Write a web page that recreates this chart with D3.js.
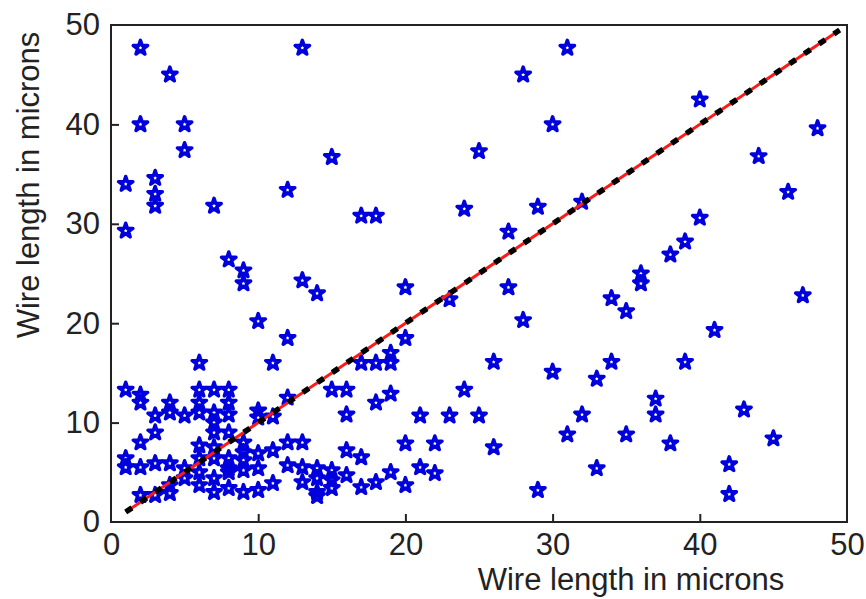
<!DOCTYPE html>
<html><head><meta charset="utf-8">
<script src="https://cdn.jsdelivr.net/npm/d3@7"></script>
<style>body{margin:0;background:#fff}svg{display:block}</style>
</head><body><svg id="c" width="866" height="599"></svg>
<script>
// ---- data ----
const xTicks = [0, 10, 20, 30, 40, 50];
const yTicks = [0, 10, 20, 30, 40, 50];
const xLabel = "Wire length in microns";
const yLabel = "Wire length in microns";
// reference line y = x (endpoints)
const refLine = [[1, 1], [49.5, 49.5]];
// scattered wire lengths (x, y)
const wireX = [2,13,31,4,28,40,2,5,30,48,5,25,15,44,1,3,12,46,3,32,3,7,24,29,17,18,40,1,27,39,38,8,9,36,9,13,36,14,20,27,47,23,34,35,10,28,41,12,20,19,6,11,17,18,19,26,34,39,30,33,1,6,7,8,15,16,24,19,2,12,37,2,4,6,8,18,43,10,4,6,7,16,3,5,8,10,11,21,23,25,32,37,7,3,7,8,31,35,45,2,6,9,12,13,20,22,38,26,9,10,11,16,17,1,6,7,8,9,1,2,3,4,5,8,9,10,12,13,14,15,21,33,42,6,8,19,22,16,5,7,14,15,13,18,11,4,6,20,8,15,17,9,10,7,14,29,4,42,2,3,14,7];
const wireY = [47.7,47.7,47.7,45,45,42.5,40,40,40,39.6,37.4,37.3,36.7,36.8,34,34.6,33.4,33.2,33,32.2,31.8,31.8,31.5,31.7,30.8,30.8,30.6,29.3,29.2,28.2,26.9,26.4,25.3,25,24,24.3,24,23,23.6,23.6,22.8,22.4,22.5,21.2,20.2,20.3,19.3,18.5,18.5,17,16,16,16,16,16,16.1,16.1,16.1,15.1,14.4,13.3,13.3,13.3,13.3,13.3,13.3,13.3,12.9,12.8,12.5,12.4,12,12,12,12,12,11.3,11.2,11,11,11,10.8,10.7,10.7,10.8,10.5,10.6,10.7,10.7,10.7,10.8,10.8,10,9,9,9,8.8,8.8,8.4,8,7.7,8,8,8,7.9,7.9,7.9,7.5,7,6.9,7.2,7.2,6.5,6.4,6.4,6.4,6.4,6.2,5.5,5.5,5.9,5.9,5.4,5.4,5.2,5.4,5.7,5.5,5.4,5.2,5.5,5.4,5.8,5,5,5,4.9,4.7,4.4,4.4,4.4,4.2,4,4,3.9,3.7,3.7,3.7,3.4,3.4,3.5,3,3.2,3,3,3.2,2.9,2.8,2.7,2.7,2.6,7.5];

// ---- layout ----
const svg = d3.select("#c");
const L = 111, R = 847, T = 25, B = 522;
const x = d3.scaleLinear().domain([0, 50]).range([L, R]);
const y = d3.scaleLinear().domain([0, 50]).range([B, T]);
const font = "'Liberation Sans', Arial, sans-serif";

svg.append("rect").attr("width", 866).attr("height", 599).attr("fill", "#fff");

// stars
const star = d3.symbol().type(d3.symbolStar).size(64);
svg.append("g").selectAll("path").data(wireX.map((v, i) => [v, wireY[i]]))
  .join("path")
  .attr("d", star)
  .attr("transform", d => `translate(${x(d[0])},${y(d[1])})`)
  .attr("fill", "none")
  .attr("stroke", "#0000dd")
  .attr("stroke-width", 3.5)
  .attr("stroke-linejoin", "round");

// reference line: red solid + black dashes
const line = d3.line().x(d => x(d[0])).y(d => y(d[1]));
svg.append("path").attr("d", line(refLine)).attr("fill", "none")
  .attr("stroke", "#ff1a1a").attr("stroke-width", 3);
svg.append("path").attr("d", line(refLine)).attr("fill", "none")
  .attr("stroke", "#000").attr("stroke-width", 5.5)
  .attr("stroke-dasharray", "7.5,10.3");

// axes
const xa = svg.append("g").attr("transform", `translate(0,${B})`)
  .call(d3.axisBottom(x).tickValues(xTicks).tickSizeInner(-8).tickSizeOuter(0).tickPadding(11));
const ya = svg.append("g").attr("transform", `translate(${L},0)`)
  .call(d3.axisLeft(y).tickValues(yTicks).tickSizeInner(-8).tickSizeOuter(0).tickPadding(11));
[xa, ya].forEach(a => {
  a.select(".domain").remove();
  a.selectAll(".tick line").attr("stroke", "#222").attr("stroke-width", 2);
  a.selectAll(".tick text").attr("fill", "#222").style("font-family", font).style("font-size", "31px");
});
xa.selectAll(".tick line").filter(d => d === 0 || d === 50).remove();
ya.selectAll(".tick line").filter(d => d === 0 || d === 50).remove();

// frame
svg.append("rect").attr("x", L).attr("y", T).attr("width", R - L).attr("height", B - T)
  .attr("fill", "none").attr("stroke", "#222").attr("stroke-width", 2);

// labels
svg.append("text").attr("x", 631).attr("y", 590).attr("text-anchor", "middle")
  .attr("fill", "#222").style("font-family", font).style("font-size", "31px").text(xLabel);
svg.append("text").attr("transform", "translate(39,185) rotate(-90)").attr("text-anchor", "middle")
  .attr("fill", "#222").style("font-family", font).style("font-size", "31px").text(yLabel);
</script>
</body></html>
